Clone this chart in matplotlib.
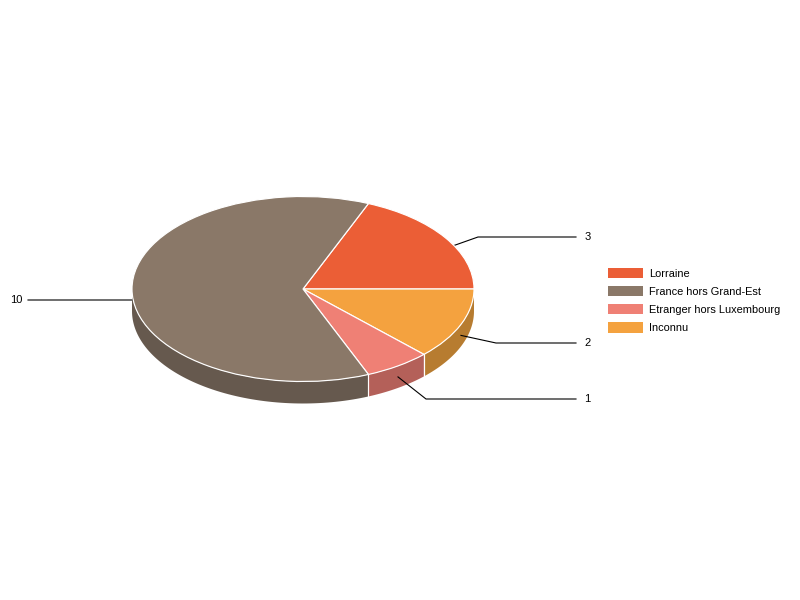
#!/usr/bin/env python3
"""Camembert 3D (faux relief) : origine par zone, avec legende a droite."""
import matplotlib
matplotlib.use("Agg")
import matplotlib.pyplot as plt
import numpy as np
from matplotlib.patches import Patch

plt.rcParams["font.family"] = ["Liberation Sans", "DejaVu Sans"]

# legende
labels = ["Lorraine", "France hors Grand-Est", "Etranger hors Luxembourg", "Inconnu"]
values = [3, 10, 1, 2]
colors = ["#EB5E36", "#8A7868", "#EF8075", "#F4A23F"]
side_colors = ["#A8432A", "#66594E", "#B46059", "#B77C30"]

# sens de rotation du camembert (horaire, a partir de Lorraine)
slice_order = [0, 3, 2, 1]

# geometrie en pixels de l'image
W, H = 800, 600
CX, CY, RX, RY, DEPTH = 303, 289, 171, 92.5, 22
# coude de chaque ligne de rappel, par rapport au centre
ELBOW = {0: (175, -52), 1: (None, None), 2: (123, 110), 3: (193, 54)}

fig = plt.figure(figsize=(8, 6), dpi=100)
ax = fig.add_axes([0, 0, 1, 1])

vals = [values[i] for i in slice_order]
cols = [colors[i] for i in slice_order]
start = 360 * values[0] / sum(values)

wedges, _ = ax.pie(vals, colors=cols, startangle=start, counterclock=False,
                   radius=1, wedgeprops=dict(edgecolor="white", linewidth=0.85, zorder=5))
ax.set_aspect("auto")
ax.set_xlim(-CX / RX, (W - CX) / RX)
ax.set_ylim(-(H - CY) / RY, CY / RY)
d = DEPTH / RY

# flancs + lignes de rappel
a0 = start
for i, v in zip(slice_order, vals):
    a1 = a0 - 360 * v / sum(values)
    # partie visible = moitie basse de l'ellipse
    lo, hi = max(a1, -180), min(a0, 0)
    if hi > lo:
        t = np.radians(np.linspace(hi, lo, 80))
        xs = np.r_[np.cos(t), np.cos(t[::-1])]
        ys = np.r_[np.sin(t), np.sin(t[::-1]) - d]
        ax.fill(xs, ys, color=side_colors[i], lw=0, zorder=2)
        for ang in (a0, a1):
            if -180 < ang < 0:
                r = np.radians(ang)
                ax.plot([np.cos(r)] * 2, [np.sin(r), np.sin(r) - d],
                        color="white", lw=0.8, zorder=3)

    mid = np.radians((a0 + a1) / 2)
    x0, y0 = np.cos(mid), np.sin(mid) - d / 2
    side = 1 if np.cos(mid) > 0 else -1
    ex, ey = ELBOW[i]
    if ex is None:
        xe, ye = x0, y0
    else:
        xe, ye = ex / RX, -ey / RY
    x_end = (576 - CX) / RX if side > 0 else (28 - CX) / RX
    x_txt = (584.5 - CX) / RX if side > 0 else (22 - CX) / RX
    ax.plot([x0, xe, x_end], [y0, ye, ye], color="black", lw=0.8, zorder=4,
            solid_joinstyle="miter", snap=False)
    ax.text(x_txt, ye, str(values[i]), fontsize=8, color="black", va="center",
            ha="left" if side > 0 else "right", zorder=6)
    a0 = a1

handles = [Patch(facecolor=c, edgecolor="none") for c in colors]
ax.legend(handles, labels, loc="upper left", bbox_to_anchor=(608 / W, 1 - 267.6 / H),
          bbox_transform=ax.transAxes, frameon=False, fontsize=7.9,
          handlelength=3.2, handleheight=1.09, handletextpad=0.55,
          labelspacing=0.66, borderpad=0, borderaxespad=0)

fig.savefig("out.png", dpi=100)
